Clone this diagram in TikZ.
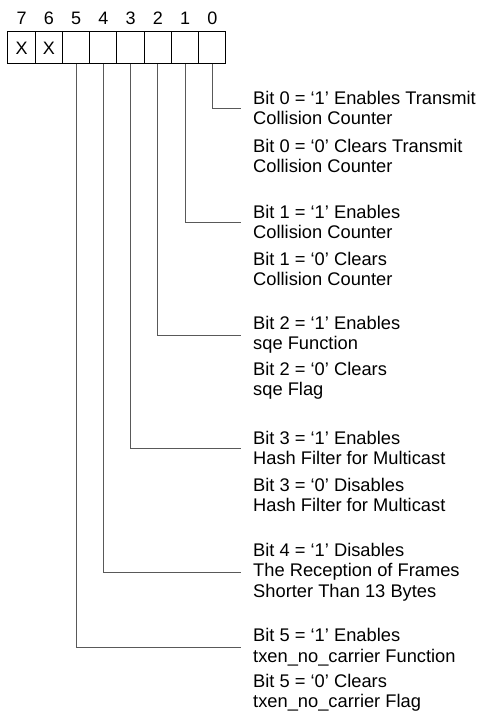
\documentclass[tikz,border=0pt]{standalone}
\usepackage{fontspec}
\setmainfont{Liberation Sans}
\begin{document}
\begin{tikzpicture}[x=1pt,y=-1pt,
  cell/.style={draw, line width=1pt, minimum width=27.25pt, minimum height=32pt, inner sep=0pt, font=\fontsize{18}{20}\selectfont},
  bitno/.style={inner sep=0pt, font=\fontsize{18}{20}\selectfont},
  desc/.style={anchor=west, align=left, inner xsep=12pt, inner ysep=0pt, font=\fontsize{18.3}{20.5}\selectfont},
  lead/.style={draw=black!65, line width=0.8pt}]
  \useasboundingbox (0,0) rectangle (480,714);

  \foreach \b/\v in {7/X,6/X,5/,4/,3/,2/,1/,0/} {
    \node[cell] (c\b) at ({21.6+(7-\b)*27.25},48) {\v};
    \node[bitno] (n\b) at ({21.6+(7-\b)*27.25},18) {\b};
  }

  \node[desc] (en0) at (241,108) {Bit 0 = ‘1’ Enables Transmit\\Collision Counter};
  \node[desc] (cl0) at (241,156) {Bit 0 = ‘0’ Clears Transmit\\Collision Counter};
  \node[desc] (en1) at (241,222) {Bit 1 = ‘1’ Enables\\Collision Counter};
  \node[desc] (cl1) at (241,269) {Bit 1 = ‘0’ Clears\\Collision Counter};
  \node[desc] (en2) at (241,335) {Bit 2 = ‘1’ Enables\\sqe Function};
  \node[desc] (cl2) at (241,381) {Bit 2 = ‘0’ Clears\\sqe Flag};
  \node[desc] (en3) at (241,448) {Bit 3 = ‘1’ Enables\\Hash Filter for Multicast};
  \node[desc] (cl3) at (241,495) {Bit 3 = ‘0’ Disables\\Hash Filter for Multicast};
  \node[desc] (en4) at (241,572) {Bit 4 = ‘1’ Disables\\The Reception of Frames\\Shorter Than 13 Bytes};
  \node[desc] (en5) at (241,647) {Bit 5 = ‘1’ Enables\\txen\_no\_carrier Function};
  \node[desc] (cl5) at (241,693) {Bit 5 = ‘0’ Clears\\txen\_no\_carrier Flag};

  \foreach \b in {0,...,5}
    \draw[lead] (c\b.south) |- (en\b.west);
\end{tikzpicture}
\end{document}
